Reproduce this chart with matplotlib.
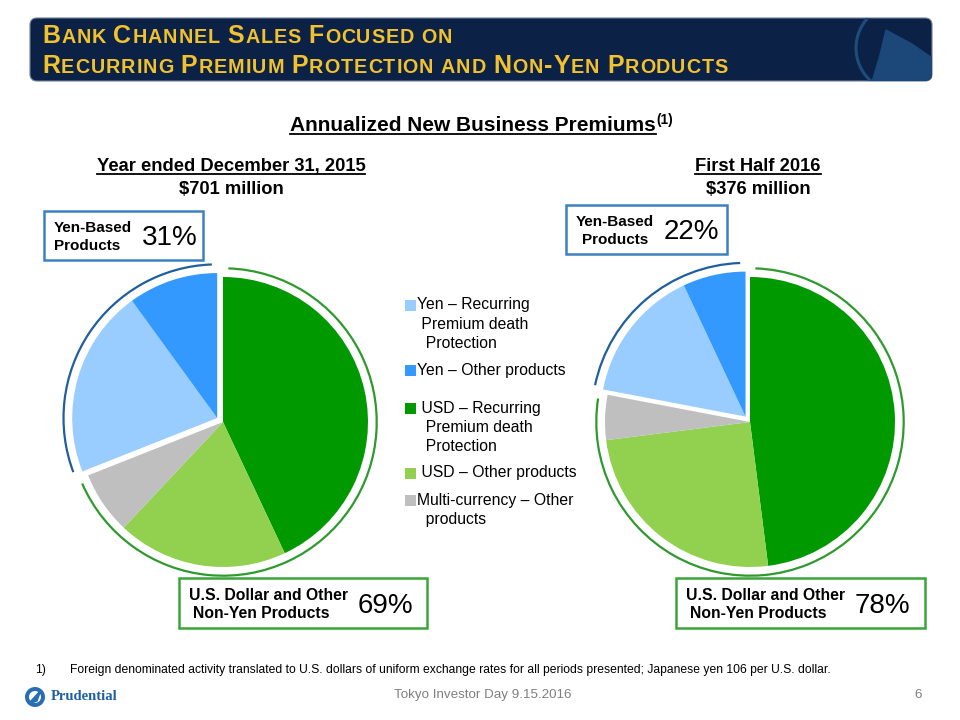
import matplotlib.pyplot as plt
from matplotlib.patches import Rectangle, FancyBboxPatch, Arc, Circle
import numpy as np

# slice order: clockwise from 12 o'clock
slice_names = ["USD – Recurring Premium death Protection", "USD – Other products",
               "Multi-currency – Other products",
               "Yen – Recurring Premium death Protection", "Yen – Other products"]
fy2015 = [43, 19, 7, 21, 10]
h1_2016 = [48, 25, 5, 15, 7]
slice_colors = ["#009900", "#92d050", "#bfbfbf", "#99ccff", "#3399ff"]
n_usd = 3  # first three slices are non-yen

pie_titles = ["Year ended December 31, 2015", "First Half 2016"]
pie_totals = ["$701 million", "$376 million"]

legend_lines = [["Yen – Recurring", " Premium death", "  Protection"],
                ["Yen – Other products"],
                [" USD – Recurring", "  Premium death", "  Protection"],
                [" USD – Other products"],
                ["Multi-currency – Other", "  products"]]
legend_colors = ["#99ccff", "#3399ff", "#009900", "#92d050", "#bfbfbf"]

W, H = 960, 720
NAVY = "#0b2246"
GOLD = "#f2c12e"
GREEN_LINE = "#2e9a2e"
BLUE_LINE = "#1f5f9e"
plt.rcParams['font.family'] = ['Liberation Sans', 'DejaVu Sans']

fig = plt.figure(figsize=(9.6, 7.2), dpi=100)
ax = fig.add_axes([0, 0, 1, 1])
ax.set_autoscale_on(False)
ax.set_xlim(0, W)
ax.set_ylim(0, H)
ax.axis('off')
renderer = fig.canvas.get_renderer()


def Y(y):
    return H - y


def width_of(t):
    return t.get_window_extent(renderer).width


# ---- header banner
banner = FancyBboxPatch((30, Y(81)), 902, 63, boxstyle="round,pad=0,rounding_size=7",
                        fc=NAVY, ec="#6d7f99", lw=0.8, zorder=1)
ax.add_patch(banner)
logo = Circle((900, Y(48)), 44, fc="none", ec="#1f4c7e", lw=2.2, zorder=2)
ax.add_patch(logo)
logo.set_clip_path(banner)
ax.fill([872, 880, 886, 897, 912, 932, 932], [Y(82), Y(55), Y(30), Y(36), Y(44), Y(58), Y(82)],
        color="#1b4878", zorder=2, clip_path=banner)


def small_caps(x, y, s, big=18.0, small=14.2, track=1.0):
    # small caps drawn one letter at a time, with a little tracking
    for ch in s:
        size = big if (ch.isupper() or ch == "-") else small
        if ch == " ":
            x += small * 100 / 72 * 0.278 + track
            continue
        t = ax.text(x, Y(y), ch.upper(), fontsize=size, fontweight='bold', color=GOLD,
                    va='baseline', ha='left', zorder=3)
        x += width_of(t) + track


small_caps(42, 43, "Bank Channel Sales Focused on")
small_caps(42, 73, "Recurring Premium Protection and Non-Yen Products")


def underlined(xc, y, s, size):
    t = ax.text(xc, Y(y), s, fontsize=size, fontweight='bold', ha='center', va='baseline')
    bb = t.get_window_extent(renderer)
    ax.plot([bb.x0, bb.x1], [Y(y) - 2.5, Y(y) - 2.5], color='black', lw=1.3)


# ---- main heading with superscript
t1 = ax.text(0, Y(131), "Annualized New Business Premiums", fontsize=15, fontweight='bold',
             ha='left', va='baseline')
t2 = ax.text(0, Y(124), "(1)", fontsize=9.8, fontweight='bold', ha='left', va='baseline')
w1, w2 = width_of(t1), width_of(t2)
x0 = 481 - (w1 + w2) / 2
t1.set_x(x0)
t2.set_x(x0 + w1 + 1)
ax.plot([x0, x0 + w1], [Y(134), Y(134)], color='black', lw=1.3)

# ---- pies
centers = [(223, 422), (750, 422)]
R = 145
for (cx, cy), vals, title, total in zip(centers, [fy2015, h1_2016], pie_titles, pie_totals):
    wedges, _ = ax.pie(vals, colors=slice_colors, startangle=90, counterclock=False,
                       center=(cx, Y(cy)), radius=R, frame=True,
                       wedgeprops=dict(linewidth=0))
    frac = np.cumsum(vals) / np.sum(vals)
    yen_start = frac[n_usd - 1] * 360  # clockwise degrees from top
    mid = (yen_start + 360) / 2
    ang = np.deg2rad(90 - mid)
    d = 7
    ox, oy = cx + d * np.cos(ang), Y(cy) + d * np.sin(ang)
    for w in wedges[n_usd:]:
        w.set_center((ox, oy))
    ra = R * 1.06
    ax.add_patch(Arc((cx, Y(cy)), 2 * ra, 2 * ra, theta1=90 - (yen_start - 2), theta2=90 - 2,
                     color=GREEN_LINE, lw=1.6))
    ax.add_patch(Arc((ox, oy), 2 * ra, 2 * ra, theta1=90 - 358, theta2=90 - (yen_start + 1),
                     color=BLUE_LINE, lw=1.6))
    underlined(cx + 8, 171, title, 13.2)
    ax.text(cx + 8, Y(194), total, fontsize=13.2, fontweight='bold', ha='center', va='baseline')

ax.set_xlim(0, W)
ax.set_ylim(0, H)
ax.set_aspect('equal')

# ---- annotation boxes
yen_share = [sum(v[n_usd:]) for v in [fy2015, h1_2016]]
usd_share = [sum(v[:n_usd]) for v in [fy2015, h1_2016]]

yen_boxes = [(44, 211, 159, 49), (566, 205, 161, 49)]
usd_boxes = [(179, 578, 248, 50), (676, 578, 249, 50)]
for i in range(2):
    bx, by, bw, bh = yen_boxes[i]
    ax.add_patch(Rectangle((bx, Y(by + bh)), bw, bh, fc='white', ec="#3d80c0", lw=1.8, zorder=4))
    off = [0, 6][i]
    ax.text(bx + 10, Y(by + 17), "Yen-Based", fontsize=11, fontweight='bold', va='center', zorder=5)
    ax.text(bx + 10 + off, Y(by + 35), "Products", fontsize=11, fontweight='bold', va='center', zorder=5)
    ax.text(bx + 98, Y(by + 27), f"{yen_share[i]}%", fontsize=20, va='center', zorder=5)

    bx, by, bw, bh = usd_boxes[i]
    ax.add_patch(Rectangle((bx, Y(by + bh)), bw, bh, fc='white', ec="#3aa53a", lw=1.8, zorder=4))
    ax.text(bx + 10, Y(by + 17), "U.S. Dollar and Other", fontsize=11.3, fontweight='bold',
            va='center', zorder=5)
    ax.text(bx + 14, Y(by + 35), "Non-Yen Products", fontsize=11.3, fontweight='bold',
            va='center', zorder=5)
    ax.text(bx + 179, Y(by + 28), f"{usd_share[i]}%", fontsize=20, va='center', zorder=5)

# ---- legend
legend_y = [305, 370, 408, 473, 500]
for lines, col, ly in zip(legend_lines, legend_colors, legend_y):
    ax.add_patch(Rectangle((405, Y(ly + 5.5)), 11, 11, fc=col, ec='none'))
    for k, line in enumerate(lines):
        ax.text(417, Y(ly + k * 19.3), line, fontsize=11.3, va='center', ha='left')

# ---- footnote and footer
ax.text(35, Y(670), "1)", fontsize=8.7, va='center')
ax.text(70, Y(670), "Foreign denominated activity translated to U.S. dollars of uniform exchange "
        "rates for all periods presented; Japanese yen 106 per U.S. dollar.",
        fontsize=8.7, va='center')
ax.add_patch(Circle((35, Y(697)), 10, fc="#2a6db5", ec='none'))
ax.add_patch(Circle((35, Y(697)), 6, fc="white", ec='none'))
ax.fill([30, 41, 37, 29], [Y(702), Y(690), Y(701), Y(704)], color="#2a6db5")
ax.text(51, Y(697), "Prudential", fontsize=10.5, fontweight='bold', family='Liberation Serif',
        color="#1d5fa6", va='center')
ax.text(483, Y(695), "Tokyo Investor Day 9.15.2016", fontsize=9.6, color="#7f7f7f",
        ha='center', va='center')
ax.text(918, Y(695), "6", fontsize=9.6, color="#7f7f7f", ha='center', va='center')

fig.savefig("out.png", dpi=100)
